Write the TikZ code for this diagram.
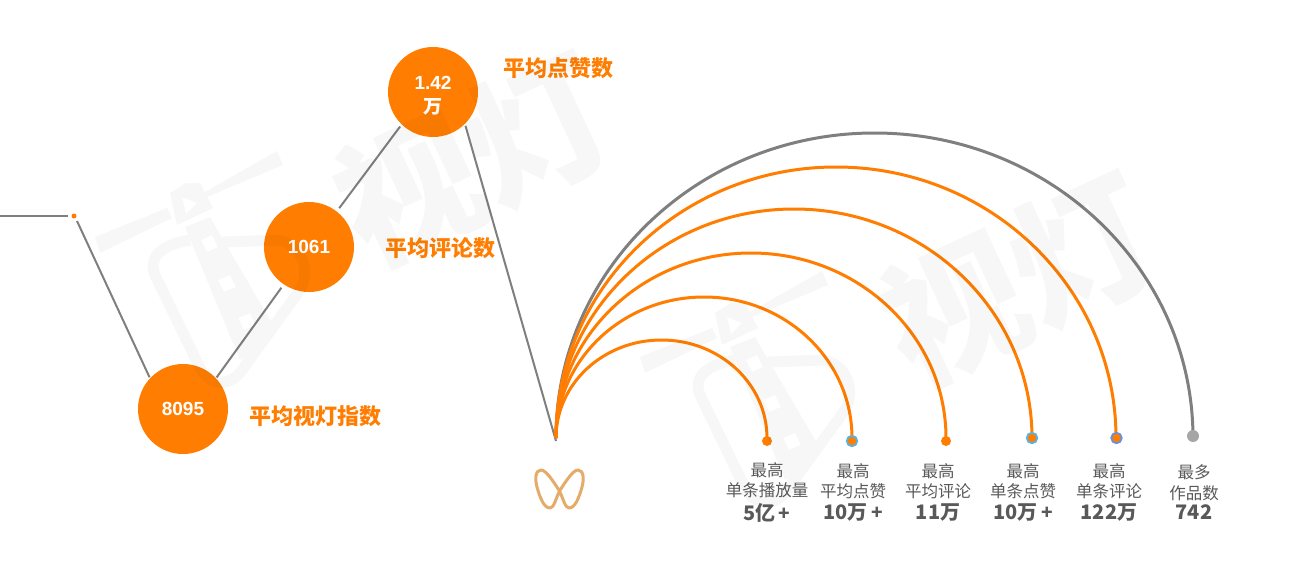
\documentclass[tikz,border=0pt]{standalone}
\usepackage{fontspec}
\setmainfont{Liberation Sans}
\newfontfamily\cjk{Noto Sans CJK SC}
\definecolor{orng}{HTML}{FF7D00}
\definecolor{linegray}{HTML}{7F7F7F}
\definecolor{txtgray}{HTML}{595959}
\definecolor{dotgray}{HTML}{A6A6A6}
\definecolor{ringa}{HTML}{5BB2E0}
\definecolor{ringb}{HTML}{6A8FDC}
\definecolor{logoc}{HTML}{E2A259}
\newcommand{\fsz}[1]{\fontsize{#1}{#1}\selectfont}
\tikzset{
  x=1pt,y=-1pt,
  bubble/.style={circle,fill=orng,minimum size=90pt,inner sep=0pt,text=white,font=\fsz{19}\bfseries,align=center},
  conn/.style={draw=linegray,line width=2pt},
  rainbow/.style={line width=3pt},
  metric/.style={text=orng,font=\cjk\bfseries\fsz{22},inner sep=0pt},
  stat/.style={text=txtgray,font=\cjk\fsz{16.5},align=center,inner sep=0pt},
  endot/.style={circle,fill=orng,minimum size=10pt,inner sep=0pt},
  ringdot/.style={endot,line width=1.8pt,minimum size=10.5pt},
  wmark/.pic={
    \fill[black] (95,237)--(167,208)--(172,218)--(100,253)--cycle;
    \fill[black] (203,193)--(277,151)--(283,165)--(207,197)--cycle;
    \fill[black,even odd rule] (170,193)--(186,183)--(200,183)--(213,208)--(177,225)--cycle
       (182,197)--(197,203)--(186,214)--cycle;
    \fill[black,even odd rule] (185,227)--(210,217)--(276,330)--(258,348)--(240,360)--cycle
       (201,240)--(212,235)--(218,247)--(207,252)--cycle
       (218,280)--(230,275)--(236,287)--(224,292)--cycle
       (238,318)--(250,313)--(256,325)--(244,330)--cycle;
    \draw[black,line width=11pt,line join=round] (190,240) .. controls (160,245) and (148,258) .. (155,275)
       -- (200,368) .. controls (208,385) and (230,388) .. (242,370)
       -- (300,290) .. controls (312,270) and (300,242) .. (277,240) -- (223,242);
    \node[rotate=25,font=\cjk\bfseries\fsz{142},text=black,inner sep=0pt] (wmtext) at (473,160) {视灯};
  }
}
\begin{document}
\begin{tikzpicture}
\useasboundingbox (0,0) rectangle (1307,563);
% graph
\node[bubble] (avgidx) at (183,409) {8095};
\node[bubble] (avgcmt) at (309,247) {1061};
\node[bubble] (avglike) at (433,92) {\rule{0pt}{20pt}1.42\\[5pt]{\cjk 万}};
\node[circle,fill=orng,minimum size=5pt,inner sep=0pt] (startdot) at (74,216) {};
\coordinate (leftend) at (0,216);
\coordinate (leftstop) at (68,216);
\coordinate (startline) at (77,221);
\coordinate (hub) at (556,441);
\coordinate (arcstart) at (556,438);
\draw[conn] (leftend) -- (leftstop);
\draw[conn,shorten >=1pt] (startline) -- (avgidx.137);
\draw[conn,shorten <=1pt,shorten >=4pt] (avgidx.43) -- (avgcmt.236.6);
\draw[conn,shorten <=4pt,shorten >=2.5pt] (avgcmt.52.4) -- (avglike.226);
\draw[conn,shorten <=2pt] (avglike.-45) -- (hub);
\node[metric] (lblidx) at (315.5,416) {平均视灯指数};
\node[metric] (lblcmt) at (440,248) {平均评论数};
\node[metric] (lbllike) at (558,68) {平均点赞数};
% arcs
\draw[rainbow,draw=linegray] (arcstart) arc[start angle=180,end angle=360,x radius=318.5,y radius=305];
\foreach \rx/\ry in {280/271,238/229,195/185,148/141,105.5/98}
  \draw[rainbow,draw=orng] (arcstart) arc[start angle=180,end angle=360,x radius=\rx,y radius=\ry];
% end dots
\node[endot] (d1) at (767,441) {};
\node[ringdot,draw=ringa] (d2) at (852,441) {};
\node[endot] (d3) at (946,441) {};
\node[ringdot,draw=ringa] (d4) at (1032,438) {};
\node[ringdot,draw=ringb] (d5) at (1116.5,438) {};
\node[endot,fill=dotgray,minimum size=12pt] (d6) at (1193,436) {};
% stats
\newcommand{\statbody}[3]{#1\\[3.6pt]#2\\[4.4pt]{\fsz{20}\textbf{#3}}}
\newcommand{\plusg}{\,{\fsz{19}+}}
\node[stat] (s1) at (767,492.5) {\statbody{最高}{单条播放量}{5亿\plusg}};
\node[stat] (s2) at (853,492.5) {\statbody{最高}{平均点赞}{10万\plusg}};
\node[stat] (s3) at (938,492.5) {\statbody{最高}{平均评论}{11万}};
\node[stat] (s4) at (1023,492.5) {\statbody{最高}{单条点赞}{10万\plusg}};
\node[stat] (s5) at (1109,492.5) {\statbody{最高}{单条评论}{122万}};
\node[stat] (s6) at (1194,492.5) {\statbody{最多}{作品数}{742}};
% logo
\draw[logoc,line width=3pt,line cap=round,line join=round,opacity=.9]
  (559.5,491) .. controls (553,481) and (546,470) .. (541,470)
  .. controls (535,470) and (535,480) .. (537,487)
  .. controls (540,498) and (544,508) .. (550,508)
  .. controls (554,508) and (556,498) .. (559.5,491)
  .. controls (563,498) and (565,508) .. (569,508)
  .. controls (575,508) and (579,498) .. (582,487)
  .. controls (584,480) and (584,470) .. (578,470)
  .. controls (573,470) and (566,481) .. (559.5,491) -- cycle;
% watermark
\begin{scope}[transparency group,opacity=.032]
  \pic at (0,0) {wmark};
  \pic at (545,120) {wmark};
\end{scope}
\end{tikzpicture}
\end{document}
